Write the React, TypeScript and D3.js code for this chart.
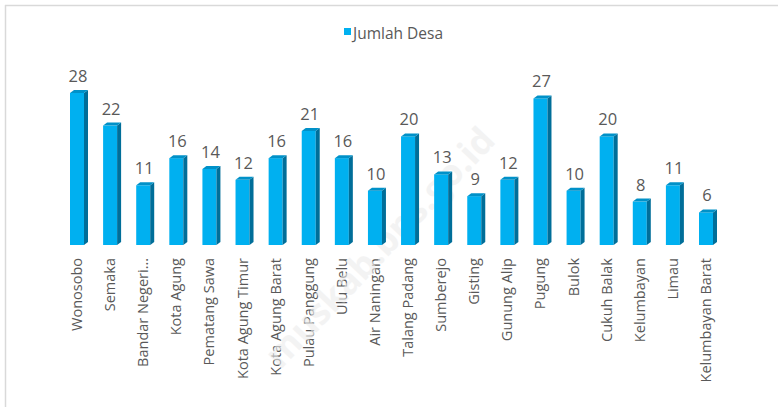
import React from "react";
import * as d3 from "d3";

const categories = [
  "Wonosobo", "Semaka", "Bandar Negeri…", "Kota Agung", "Pematang Sawa",
  "Kota Agung Timur", "Kota Agung Barat", "Pulau Panggung", "Ulu Belu",
  "Air Naningan", "Talang Padang", "Sumberejo", "Gisting", "Gunung Alip",
  "Pugung", "Bulok", "Cukuh Balak", "Kelumbayan", "Limau", "Kelumbayan Barat",
];
const jumlahDesa = [28, 22, 11, 16, 14, 12, 16, 21, 16, 10, 20, 13, 9, 12, 27, 10, 20, 8, 11, 6];
const seriesName = "Jumlah Desa";

const W = 779;
const H = 407;
const FONT = "'Open Sans', sans-serif";

export default function App() {
  const x = d3.scalePoint<string>().domain(categories).range([77, 706]);
  const y = d3.scaleLinear().domain([0, 28]).range([245, 93]);
  const bw = 14;
  const dx = 4;
  const dy = 3;

  return (
    <svg width={W} height={H} style={{ position: "absolute", left: 0, top: 0, background: "#fff" }}>
      <rect x={0} y={0} width={W} height={H} fill="#fff" />
      <line x1={5} y1={5.5} x2={778} y2={5.5} stroke="#d9d9d9" strokeWidth={1.5} />
      <line x1={5.5} y1={5} x2={5.5} y2={407} stroke="#d9d9d9" strokeWidth={1.5} />

      {/* legend */}
      <rect x={344} y={28} width={7} height={7} fill="#00B0F0" />
      <text x={353} y={38.5} fontFamily={FONT} fontSize={15.5} fill="#595959">{seriesName}</text>

      {/* category labels */}
      {categories.map((c) => (
        <text
          key={c}
          transform={`translate(${(x(c) as number) + 5},258) rotate(-90)`}
          textAnchor="end"
          fontFamily={FONT}
          fontSize={14.5}
          fill="#595959"
        >
          {c}
        </text>
      ))}

      {/* watermark */}
      <text
        transform="translate(497,142) rotate(-46.5)"
        textAnchor="end"
        fontFamily="'Open Sans', sans-serif"
        fontWeight={700}
        fontSize={36}
        fill="#ececec"
        opacity={0.6}
      >
        muskab.bps.go.id
      </text>

      {/* bars */}
      {categories.map((c, i) => {
        const cx = x(c) as number;
        const x0 = cx - bw / 2;
        const x1 = cx + bw / 2;
        const yt = y(jumlahDesa[i]);
        const yb = y(0);
        const side = `M${x1},${yt} L${x1 + dx},${yt - dy} L${x1 + dx},${yb - dy} L${x1},${yb} Z`;
        const top = `M${x0},${yt} L${x0 + dx},${yt - dy} L${x1 + dx},${yt - dy} L${x1},${yt} Z`;
        return (
          <g key={c}>
            <rect x={x0} y={yt} width={bw} height={yb - yt} fill="#00B0F0" />
            <path d={side} fill="#006E99" />
            <path d={top} fill="#0091C8" />
            <text
              x={cx + 1}
              y={yt - 11}
              textAnchor="middle"
              fontFamily={FONT}
              fontSize={16.5}
              fill="#595959"
            >
              {jumlahDesa[i]}
            </text>
          </g>
        );
      })}
    </svg>
  );
}
